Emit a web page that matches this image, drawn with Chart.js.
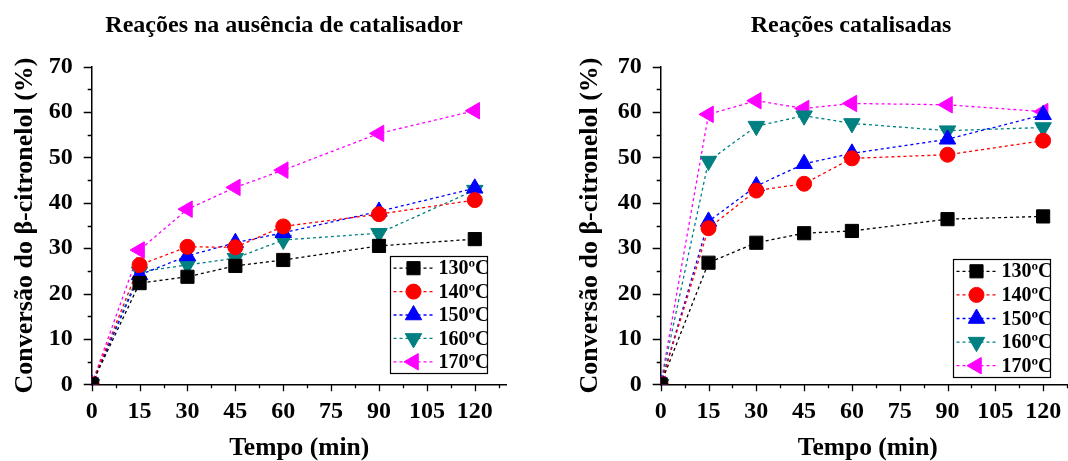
<!DOCTYPE html>
<html>
<head>
<meta charset="utf-8">
<script src="https://cdn.jsdelivr.net/npm/chart.js@4.4.1/dist/chart.umd.min.js"></script>
<style>
    html, body { margin: 0; padding: 0; background: #fff; overflow: hidden; width: 1068px; height: 461px; }
    .painel { position: absolute; top: 0; height: 461px; }
    #painel-a { left: 0; width: 568px; }
    #painel-b { left: 560px; width: 582px; }
    .titulo {
        position: absolute; top: 12px; width: 500px; margin-left: -250px;
        text-align: center; white-space: nowrap;
        font: bold 24px/24px "Liberation Serif", "Times New Roman", serif; color: #000;
    }
    #titulo-a { left: 284px; }
    #titulo-b { left: 851px; }
</style>
</head>
<body>
<div class="painel" id="painel-a"><canvas id="grafico-sem-catalisador"></canvas></div>
<div class="painel" id="painel-b"><canvas id="grafico-catalisadas"></canvas></div>
<div class="titulo" id="titulo-a">Reações na ausência de catalisador</div>
<div class="titulo" id="titulo-b">Reações catalisadas</div>
<script>
(function () {
    'use strict';

    // tempos de reacao (min)
    var tempoMin = [0, 15, 30, 45, 60, 90, 120];
    var temperaturas = ['130ºC', '140ºC', '150ºC', '160ºC', '170ºC'];

    // conversao (%) - reacoes sem catalisador
    var semCat130 = [0, 22.3, 23.7, 26.1, 27.4, 30.5, 32.0];
    var semCat140 = [0, 26.3, 30.3, 30.2, 34.8, 37.5, 40.6];
    var semCat150 = [0, 24.1, 28.3, 31.2, 33.4, 38.1, 43.2];
    var semCat160 = [0, 24.8, 26.3, 27.8, 31.8, 33.3, 42.8];
    var semCat170 = [0, 29.6, 38.6, 43.4, 47.2, 55.3, 60.3];

    // conversao (%) - reacoes catalisadas
    var cat130 = [0, 26.8, 31.2, 33.3, 33.8, 36.4, 37.0];
    var cat140 = [0, 34.4, 42.7, 44.2, 49.8, 50.6, 53.7];
    var cat150 = [0, 35.9, 43.7, 48.6, 50.9, 54.0, 59.4];
    var cat160 = [0, 49.2, 56.9, 59.2, 57.5, 55.9, 56.6];
    var cat170 = [0, 59.5, 62.5, 60.8, 61.9, 61.6, 60.1];

    var yTicks = [0, 10, 20, 30, 40, 50, 60, 70];
    var xTicks = [0, 15, 30, 45, 60, 75, 90, 105, 120];

    var cores = ['#000000', '#ff0000', '#0000ff', '#008080', '#ff00ff'];
    var marcadores = ['rect', 'circle', 'triangle', 'triangle', 'triangle'];
    var rotacoes = [0, 0, 0, 180, 270];
    var raios = [9.3, 7.5, 9.5, 9.5, 9.5];

    var FONTE = '"Liberation Serif", "Times New Roman", serif';

    function pts(valores) {
        return tempoMin.map(function (t, i) {
            return { x: t, y: valores[i] };
        });
    }

    function datasets(series) {
        return series.map(function (s, i) {
            return {
                label: temperaturas[i],
                data: pts(s),
                borderColor: cores[i],
                backgroundColor: cores[i],
                borderWidth: 1.3,
                borderDash: [3, 3],
                pointStyle: marcadores[i],
                pointRotation: rotacoes[i],
                pointRadius: raios[i],
                pointBackgroundColor: cores[i],
                pointBorderColor: cores[i],
                pointBorderWidth: 1,
                tension: 0,
                fill: false,
            };
        });
    }

    // marcas de escala maiores e menores, voltadas para fora
    var ticksPlugin = {
        id: 'marcasEscala',
        afterDraw: function (chart) {
            var ctx = chart.ctx;
            var xs = chart.scales.x;
            var ys = chart.scales.y;
            var v, px, len;
            ctx.save();
            ctx.strokeStyle = '#000';
            ctx.lineWidth = 1.3;
            ctx.beginPath();
            for (v = 0; v <= xs.max + 0.01; v += 7.5) {
                px = Math.round(xs.getPixelForValue(v)) + 0.5;
                len = v % 15 === 0 ? 7 : 4;
                ctx.moveTo(px, xs.top);
                ctx.lineTo(px, xs.top + len);
            }
            for (v = 0; v <= ys.max + 0.01; v += 5) {
                px = Math.round(ys.getPixelForValue(v)) + 0.5;
                len = v % 10 === 0 ? 8 : 4;
                ctx.moveTo(ys.right, px);
                ctx.lineTo(ys.right - len, px);
            }
            ctx.stroke();
            ctx.restore();
        },
    };

    // legenda em caixa dentro da area do grafico
    var legendaPlugin = {
        id: 'legendaCaixa',
        afterDraw: function (chart, args, opts) {
            var ctx = chart.ctx;
            var area = chart.chartArea;
            var w = opts.width;
            var h = opts.height;
            var x0 = Math.round(area.right - opts.right - w) + 0.5;
            var y0 = Math.round(area.bottom - opts.bottom - h) + 0.5;
            var dsList = chart.data.datasets;
            var rowH = h / dsList.length;
            ctx.save();
            ctx.fillStyle = '#fff';
            ctx.fillRect(x0, y0, w, h);
            ctx.strokeStyle = '#000';
            ctx.lineWidth = 1.2;
            ctx.strokeRect(x0, y0, w, h);
            dsList.forEach(function (ds, i) {
                var cy = y0 + rowH * (i + 0.5);
                ctx.strokeStyle = ds.borderColor;
                ctx.lineWidth = ds.borderWidth;
                ctx.setLineDash(ds.borderDash);
                ctx.beginPath();
                ctx.moveTo(x0 + 3, cy);
                ctx.lineTo(x0 + 42, cy);
                ctx.stroke();
                ctx.setLineDash([]);
                ctx.fillStyle = ds.pointBackgroundColor;
                ctx.strokeStyle = ds.pointBorderColor;
                ctx.lineWidth = 1;
                Chart.helpers.drawPoint(ctx, {
                    pointStyle: ds.pointStyle,
                    rotation: ds.pointRotation,
                    radius: ds.pointRadius,
                    borderWidth: 1,
                }, x0 + 23, cy);
                ctx.fillStyle = '#000';
                ctx.font = 'bold 20px ' + FONTE;
                ctx.textBaseline = 'middle';
                ctx.textAlign = 'left';
                ctx.fillText(ds.label, x0 + 48, cy + 1);
            });
            ctx.restore();
        },
    };

    function criarGrafico(id, series, cfg) {
        var canvas = document.getElementById(id);
        return new Chart(canvas.getContext('2d'), {
            type: 'line',
            data: { datasets: datasets(series) },
            plugins: [ticksPlugin, legendaPlugin],
            options: {
                responsive: true,
                maintainAspectRatio: false,
                animation: false,
                events: [],
                layout: { padding: { left: 0, right: cfg.padRight, top: 66.7, bottom: 0 } },
                plugins: {
                    legend: { display: false },
                    tooltip: { enabled: false },
                    title: { display: false },
                    legendaCaixa: cfg.legenda,
                },
                scales: {
                    x: {
                        type: 'linear',
                        min: 0,
                        max: cfg.xMax,
                        afterFit: function (s) { s.height = 76.7; },
                        afterBuildTicks: function (s) {
                            s.ticks = xTicks.map(function (v) { return { value: v }; });
                        },
                        grid: { display: false },
                        border: { display: true, color: '#000', width: 1.5 },
                        ticks: {
                            color: '#000',
                            padding: 5,
                            maxRotation: 0,
                            autoSkip: false,
                            font: { family: FONTE, size: 24, weight: 'bold' },
                        },
                        title: {
                            display: true,
                            text: 'Tempo (min)',
                            color: '#000',
                            font: { family: FONTE, size: 25.5, weight: 'bold', lineHeight: 1 },
                            padding: { top: 0, bottom: 0 },
                        },
                    },
                    y: {
                        min: 0,
                        max: 70,
                        afterFit: function (s) { s.width = cfg.yWidth; },
                        afterBuildTicks: function (s) {
                            s.ticks = yTicks.map(function (v) { return { value: v }; });
                        },
                        grid: { display: false },
                        border: { display: true, color: '#000', width: 1.5 },
                        ticks: {
                            color: '#000',
                            padding: 11,
                            font: { family: FONTE, size: 24, weight: 'bold' },
                        },
                        title: {
                            display: true,
                            text: 'Conversão do β-citronelol (%)',
                            color: '#000',
                            font: { family: FONTE, size: 26, weight: 'bold' },
                            padding: { top: cfg.yTitlePad, bottom: 0 },
                        },
                    },
                },
            },
        });
    }

    criarGrafico('grafico-sem-catalisador',
        [semCat130, semCat140, semCat150, semCat160, semCat170],
        { xMax: 130, padRight: 61.3, yWidth: 91.7, yTitlePad: 9.4,
          legenda: { width: 97, height: 117, right: 20, bottom: 11 } });

    criarGrafico('grafico-catalisadas',
        [cat130, cat140, cat150, cat160, cat170],
        { xMax: 130, padRight: 67, yWidth: 100.7, yTitlePad: 14.4,
          legenda: { width: 97, height: 118, right: 25, bottom: 7 } });
})();
</script>
</body>
</html>
